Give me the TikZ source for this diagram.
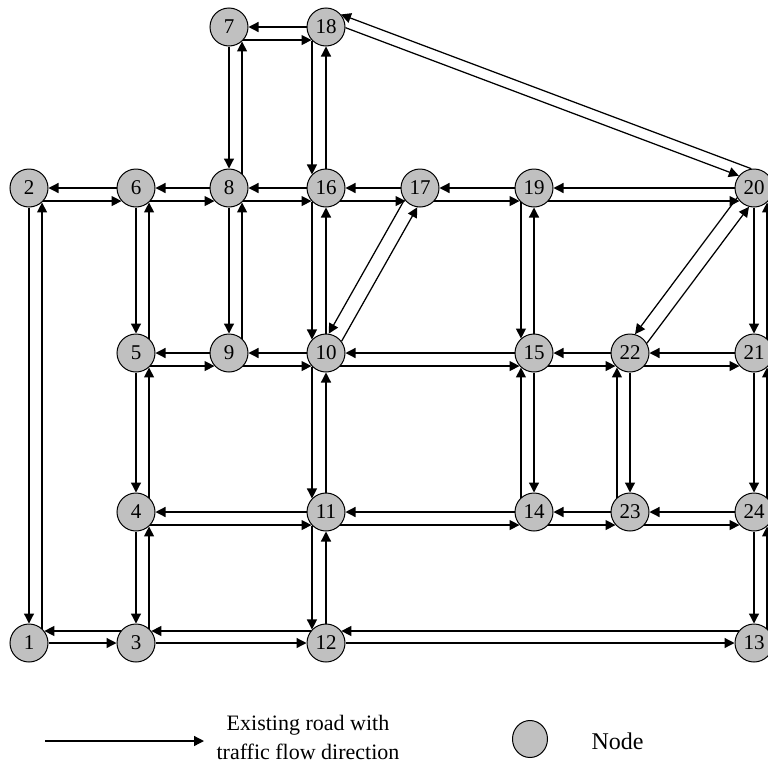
\documentclass[tikz,border=0pt]{standalone}
\usepackage{fontspec}
\setmainfont{Liberation Serif}
\usetikzlibrary{arrows.meta,shapes.geometric}
\definecolor{nodegray}{RGB}{192,192,192}
% horizontal pair: #1 left, #2 right; leftward on centre line, rightward 13 below
\newcommand\RoadH[2]{\draw[road] (#2) -- (#1); \draw[road] (#1.-42) -- (#2.-138);}
% bottom row: leftward 12 above, rightward on centre line
\newcommand\RoadHlow[2]{\draw[road] (#2.142) -- (#1.38); \draw[road] (#1) -- (#2);}
% vertical pair: #1 top, #2 bottom; down on centre, up 13 to the right
\newcommand\RoadVR[2]{\draw[road] (#1) -- (#2); \draw[road] (#2.48) -- (#1.-48);}
% vertical pair: down on the left (offset), up on centre
\newcommand\RoadVL[3]{\draw[road] (#1.-#3) -- (#2.#3); \draw[road] (#2) -- (#1);}
% vertical pair: up on the left (offset), down on centre
\newcommand\RoadVLup[3]{\draw[road] (#2.#3) -- (#1.-#3); \draw[road] (#1) -- (#2);}
\begin{document}
\begin{tikzpicture}[x=1pt,y=-1pt,
  stn/.style={circle,draw,line width=1pt,fill=nodegray,minimum size=38pt,inner sep=0pt,
    font=\fontsize{21}{21}\selectfont},
  road/.style={line width=1.25pt,-{Triangle[length=10pt,width=10pt]}},
  legtext/.style={font=\fontsize{22}{29}\selectfont,align=center}]
\useasboundingbox (0,0) rectangle (768,774);
% nodes
\node[stn] (n7)  at (229,27)  {7};
\node[stn] (n18) at (326,27)  {18};
\node[stn] (n2)  at (29,188)  {2};
\node[stn] (n6)  at (136,188) {6};
\node[stn] (n8)  at (229,188) {8};
\node[stn] (n16) at (326,188) {16};
\node[stn] (n17) at (420,188) {17};
\node[stn] (n19) at (534,188) {19};
\node[stn] (n20) at (754,188) {20};
\node[stn] (n5)  at (136,353) {5};
\node[stn] (n9)  at (229,353) {9};
\node[stn] (n10) at (326,353) {10};
\node[stn] (n15) at (534,353) {15};
\node[stn] (n22) at (630,353) {22};
\node[stn] (n21) at (754,353) {21};
\node[stn] (n4)  at (136,512) {4};
\node[stn] (n11) at (326,512) {11};
\node[stn] (n14) at (534,512) {14};
\node[stn] (n23) at (630,512) {23};
\node[stn] (n24) at (754,512) {24};
\node[stn] (n1)  at (29,643)  {1};
\node[stn] (n3)  at (136,643) {3};
\node[stn] (n12) at (326,643) {12};
\node[stn] (n13) at (754,643) {13};
% horizontal roads
\RoadH{n7}{n18}
\RoadH{n2}{n6}  \RoadH{n6}{n8}  \RoadH{n8}{n16}
\RoadH{n16}{n17} \RoadH{n17}{n19} \RoadH{n19}{n20}
\RoadH{n5}{n9}  \RoadH{n9}{n10} \RoadH{n10}{n15}
\RoadH{n15}{n22} \RoadH{n22}{n21}
\RoadH{n4}{n11} \RoadH{n11}{n14} \RoadH{n14}{n23} \RoadH{n23}{n24}
\RoadHlow{n1}{n3} \RoadHlow{n3}{n12} \RoadHlow{n12}{n13}
% vertical roads
\RoadVR{n2}{n1}  \RoadVR{n6}{n5}  \RoadVR{n5}{n4}  \RoadVR{n4}{n3}
\RoadVR{n7}{n8}  \RoadVR{n8}{n9}
\RoadVR{n20}{n21} \RoadVR{n21}{n24} \RoadVR{n24}{n13}
\RoadVL{n18}{n16}{136} \RoadVL{n16}{n10}{136} \RoadVL{n10}{n11}{136} \RoadVL{n11}{n12}{136}
\RoadVL{n19}{n15}{132}
\RoadVLup{n15}{n14}{132} \RoadVLup{n22}{n23}{132}
% diagonal roads
\draw[road] (n10.37.7) -- (n17.262.9);
\draw[road] (n17.217.7) -- (n10.82.9);
\draw[road] (n22.30.5) -- (n20.255.7);
\draw[road] (n20.210.5) -- (n22.75.7);
\draw[road] (n18.-2.7) -- (n20.141.5);
\draw[road] (n20.98.7) -- (n18.40.1);
% legend
\coordinate (la) at (45,741);
\coordinate (lb) at (204,741);
\draw[road] (la) -- (lb);
\node[legtext] (legtxt) at (308,737) {Existing road with\\traffic flow direction};
\node[ellipse,draw,line width=1pt,fill=nodegray,minimum width=35pt,minimum height=37pt,inner sep=0pt] (legnode) at (530,739) {};
\node[legtext,anchor=west,font=\fontsize{24}{24}\selectfont] (legnodetxt) at (588,741) {Node};
\end{tikzpicture}
\end{document}
